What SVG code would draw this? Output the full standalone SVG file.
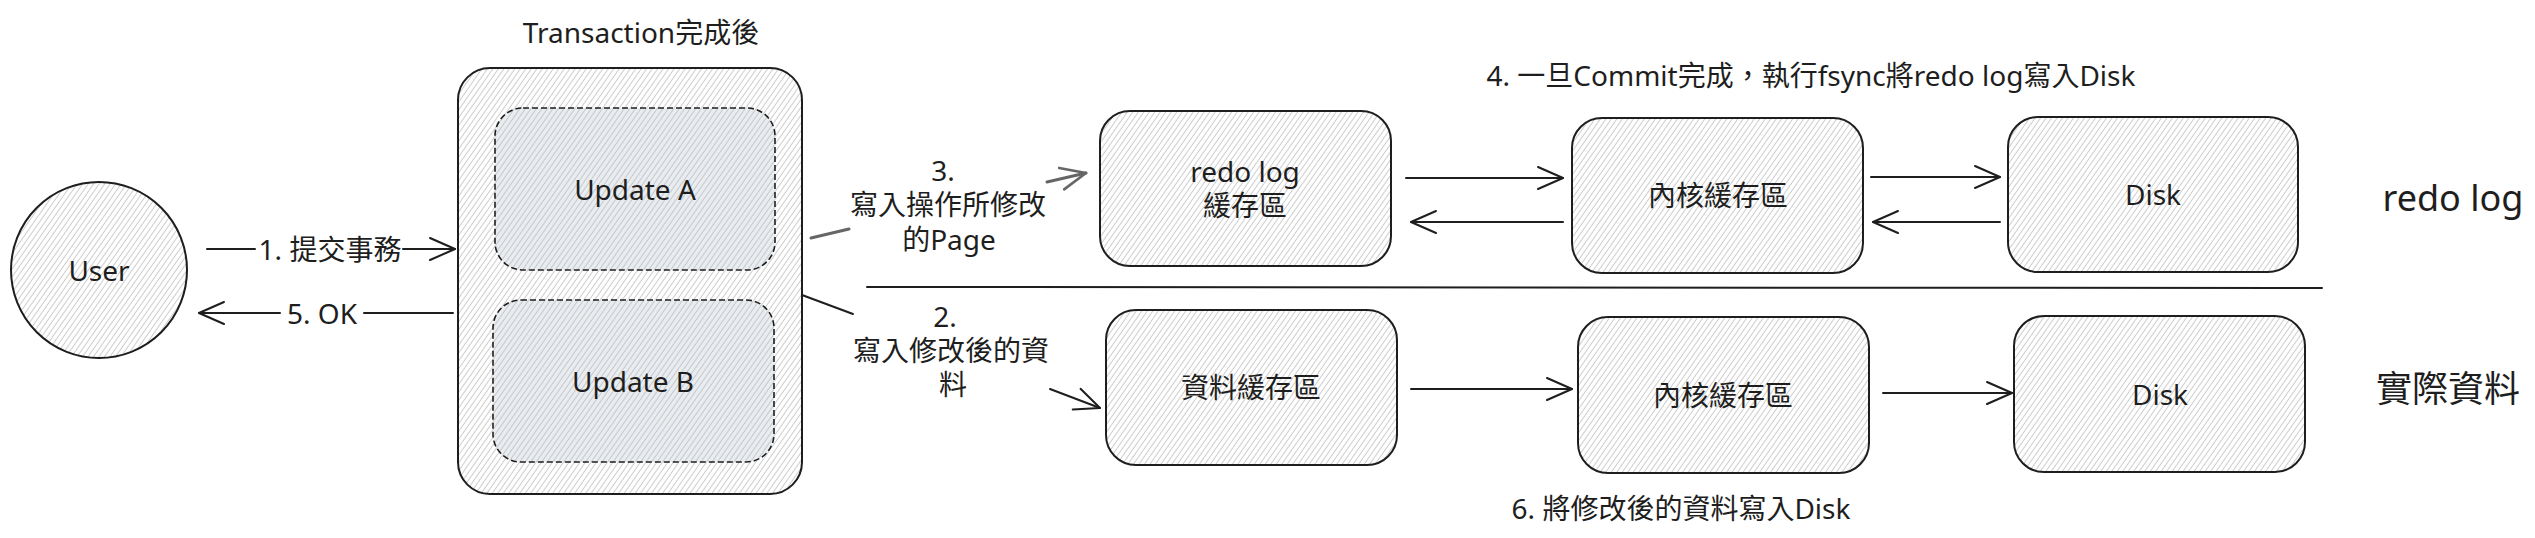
<svg xmlns="http://www.w3.org/2000/svg" width="2535" height="538" viewBox="0 0 2535 538">
<defs>
<pattern id="hatch" patternUnits="userSpaceOnUse" width="4.5" height="10" patternTransform="rotate(35)">
<line x1="2.2" y1="0" x2="2.2" y2="10" stroke="#cccccc" stroke-width="1"/>
</pattern>
<pattern id="hatch2" patternUnits="userSpaceOnUse" width="4.5" height="10" patternTransform="rotate(35)">
<line x1="2.2" y1="0" x2="2.2" y2="10" stroke="#c3c7cb" stroke-width="1"/>
</pattern>
<marker id="ah" markerUnits="userSpaceOnUse" viewBox="-30 -15 34 30" refX="0" refY="0" markerWidth="34" markerHeight="30" orient="auto">
<path d="M-25,-11 L0,0 L-25,11" fill="none" stroke="#1e1e1e" stroke-width="2" stroke-linecap="round" stroke-linejoin="round"/>
</marker>
<marker id="ahg" markerUnits="userSpaceOnUse" viewBox="-30 -15 34 30" refX="0" refY="0" markerWidth="34" markerHeight="30" orient="auto">
<path d="M-25,-11 L0,0 L-25,11" fill="none" stroke="#666666" stroke-width="2.6" stroke-linecap="round" stroke-linejoin="round"/>
</marker>
</defs>
<style>
.box{fill:url(#hatch);stroke:#1e1e1e;stroke-width:2}
.updbg{fill:#eaedf0;stroke:none}
.upd{fill:url(#hatch2);stroke:#1e1e1e;stroke-width:1.6;stroke-dasharray:6 3}
.t{font-family:"Noto Sans","Noto Sans CJK TC",sans-serif;font-size:28px;fill:#1e1e1e;text-anchor:middle;dominant-baseline:central}
.xl{font-size:36px}
.c{stroke:#1e1e1e;stroke-width:2;fill:none;stroke-linecap:round}
.g{stroke:#666666;stroke-width:3}
</style>
<rect width="2535" height="538" fill="#ffffff"/>

<g id="user">
<circle class="box" cx="99" cy="270" r="88"/>
<text class="t" x="99" y="270">User</text>
</g>

<g id="transaction">
<text class="t" x="641" y="32">Transaction完成後</text>
<rect class="box" x="458" y="68" width="344" height="426" rx="32"/>
</g>

<g id="update-a">
<rect class="updbg" x="495" y="108" width="280" height="162" rx="28"/>
<rect class="upd" x="495" y="108" width="280" height="162" rx="28"/>
<text class="t" x="635" y="189">Update A</text>
</g>

<g id="update-b">
<rect class="updbg" x="493" y="300" width="281" height="162" rx="28"/>
<rect class="upd" x="493" y="300" width="281" height="162" rx="28"/>
<text class="t" x="633" y="381">Update B</text>
</g>

<g id="redo-buffer">
<rect class="box" x="1100" y="111" width="291" height="155" rx="30"/>
<text class="t" x="1245" y="171">redo log<tspan x="1245" dy="34">緩存區</tspan></text>
</g>

<g id="data-buffer">
<rect class="box" x="1106" y="310" width="291" height="155" rx="30"/>
<text class="t" x="1251" y="387">資料緩存區</text>
</g>

<g id="kernel-top">
<rect class="box" x="1572" y="118" width="291" height="155" rx="30"/>
<text class="t" x="1718" y="195">內核緩存區</text>
</g>

<g id="kernel-bottom">
<rect class="box" x="1578" y="317" width="291" height="156" rx="30"/>
<text class="t" x="1723" y="395">內核緩存區</text>
</g>

<g id="disk-top">
<rect class="box" x="2008" y="117" width="290" height="155" rx="30"/>
<text class="t" x="2153" y="194">Disk</text>
</g>

<g id="disk-bottom">
<rect class="box" x="2014" y="316" width="291" height="156" rx="30"/>
<text class="t" x="2160" y="394">Disk</text>
</g>

<g id="labels">
<text class="t" x="1811" y="75">4. 一旦Commit完成，執行fsync將redo log寫入Disk</text>
<text class="t" x="1681" y="508">6. 將修改後的資料寫入Disk</text>
<text class="t xl" x="2453" y="197">redo log</text>
<text class="t xl" x="2448" y="388">實際資料</text>
</g>

<g id="connectors">
<line class="c" x1="867" y1="287" x2="2322" y2="288" stroke-width="2.5"/>
<path class="c" d="M207,249 L255,249"/>
<path class="c" d="M403,249 L455,249" marker-end="url(#ah)"/>
<text class="t" x="330" y="249">1. 提交事務</text>
<path class="c" d="M453,313 L364,313"/>
<path class="c" d="M280,313 L199,313" marker-end="url(#ah)"/>
<text class="t" x="322" y="313">5. OK</text>
<path class="c g" d="M811,238 L849,229"/>
<path class="c g" d="M1047,182 L1086,173" marker-end="url(#ahg)"/>
<text class="t" x="943" y="170">3.<tspan x="948" dy="34">寫入操作所修改</tspan><tspan x="949" dy="35">的Page</tspan></text>
<path class="c" d="M802,295 L853,314"/>
<path class="c" d="M1050,389 L1100,408" marker-end="url(#ah)"/>
<text class="t" x="945" y="316">2.<tspan x="951" dy="34">寫入修改後的資</tspan><tspan x="953" dy="34">料</tspan></text>
<path class="c" d="M1406,178 L1563,178" marker-end="url(#ah)"/>
<path class="c" d="M1563,222 L1411,222" marker-end="url(#ah)"/>
<path class="c" d="M1871,177 L2000,177" marker-end="url(#ah)"/>
<path class="c" d="M2000,222 L1873,222" marker-end="url(#ah)"/>
<path class="c" d="M1411,389 L1572,389" marker-end="url(#ah)"/>
<path class="c" d="M1883,393 L2012,393" marker-end="url(#ah)"/>
</g>
</svg>
